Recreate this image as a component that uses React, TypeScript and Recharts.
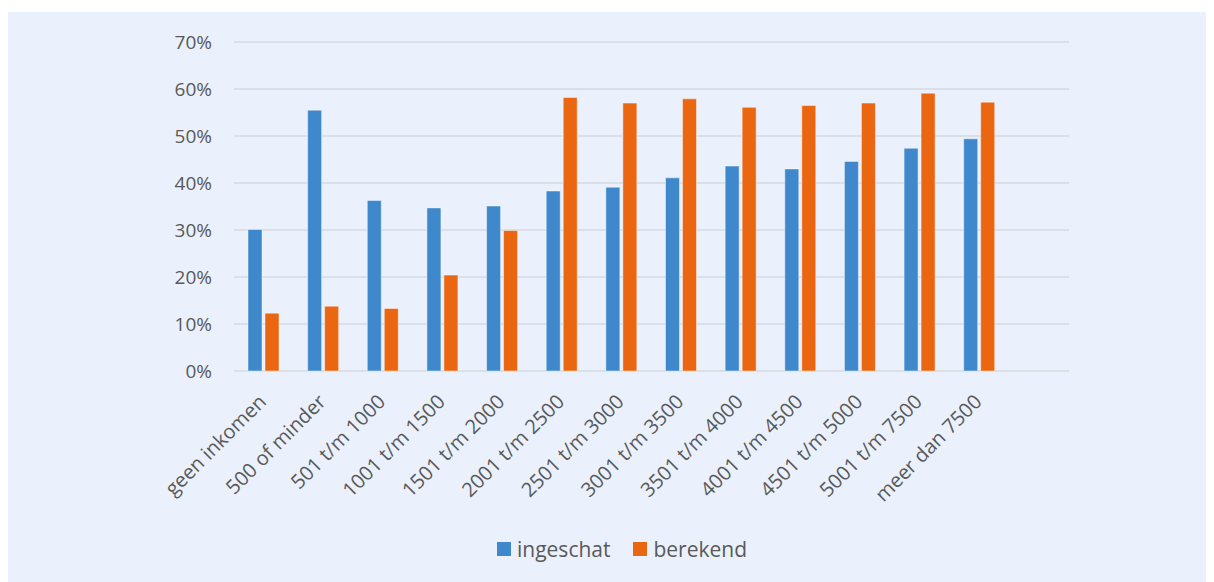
import { BarChart, Bar, XAxis, YAxis, CartesianGrid } from "recharts";

const categories = [
  "geen inkomen",
  "500 of minder",
  "501 t/m 1000",
  "1001 t/m 1500",
  "1501 t/m 2000",
  "2001 t/m 2500",
  "2501 t/m 3000",
  "3001 t/m 3500",
  "3501 t/m 4000",
  "4001 t/m 4500",
  "4501 t/m 5000",
  "5001 t/m 7500",
  "meer dan 7500",
  "",
];
const ingeschat = [30.1, 55.5, 36.3, 34.7, 35.1, 38.3, 39.1, 41.1, 43.6, 43.0, 44.6, 47.4, 49.4, null];
const berekend = [12.3, 13.8, 13.3, 20.4, 29.9, 58.2, 57.0, 57.9, 56.1, 56.5, 57.0, 59.1, 57.2, null];
const yTicks = [0, 10, 20, 30, 40, 50, 60, 70];

const data = categories.map((label, i) => ({
  label,
  ingeschat: ingeschat[i],
  berekend: berekend[i],
}));

const BLUE = "#3F88CC";
const ORANGE = "#EB6611";
const TEXT = "#595959";
const FONT = "'Open Sans', sans-serif";

function XTick(props: any) {
  const { x, y, payload } = props;
  const ax = x + 3.5;
  const ay = y + 32;
  return (
    <text
      x={ax}
      y={ay}
      transform={`rotate(-45 ${ax} ${ay})`}
      textAnchor="end"
      fill={TEXT}
      fontSize={20}
      fontFamily={FONT}
    >
      {payload.value}
    </text>
  );
}

export default function App() {
  return (
    <div style={{ marginTop: 4, width: 1206, height: 570, background: "#EAF1FD", position: "relative" }}>
      <BarChart
        width={1206}
        height={570}
        data={data}
        margin={{ top: 30, right: 145, left: 0, bottom: 0 }}
        barSize={14}
        barGap={3}
      >
        <CartesianGrid vertical={false} stroke="#D6D9DE" strokeWidth={1.5} />
        <XAxis
          dataKey="label"
          interval={0}
          tickLine={false}
          axisLine={false}
          tickSize={0}
          tickMargin={0}
          height={211}
          tick={<XTick />}
        />
        <YAxis
          domain={[0, 70]}
          ticks={yTicks}
          width={226}
          tickLine={false}
          axisLine={false}
          tickMargin={16}
          tickFormatter={(v: number) => `${v}%`}
          tick={{ fill: TEXT, fontSize: 19, fontFamily: FONT }}
        />
        <Bar dataKey="ingeschat" fill={BLUE} stroke="#ffffff" strokeOpacity={0.45} strokeWidth={1} isAnimationActive={false} />
        <Bar dataKey="berekend" fill={ORANGE} stroke="#ffffff" strokeOpacity={0.45} strokeWidth={1} isAnimationActive={false} />
      </BarChart>
      <div
        style={{
          position: "absolute",
          top: 523,
          left: 489,
          display: "flex",
          alignItems: "center",
          fontFamily: FONT,
          fontSize: 21,
          color: TEXT,
        }}
      >
        <span style={{ width: 14, height: 14, background: BLUE, display: "inline-block", marginRight: 6 }} />
        <span style={{ marginRight: 23 }}>ingeschat</span>
        <span style={{ width: 14, height: 14, background: ORANGE, display: "inline-block", marginRight: 6 }} />
        <span>berekend</span>
      </div>
    </div>
  );
}
